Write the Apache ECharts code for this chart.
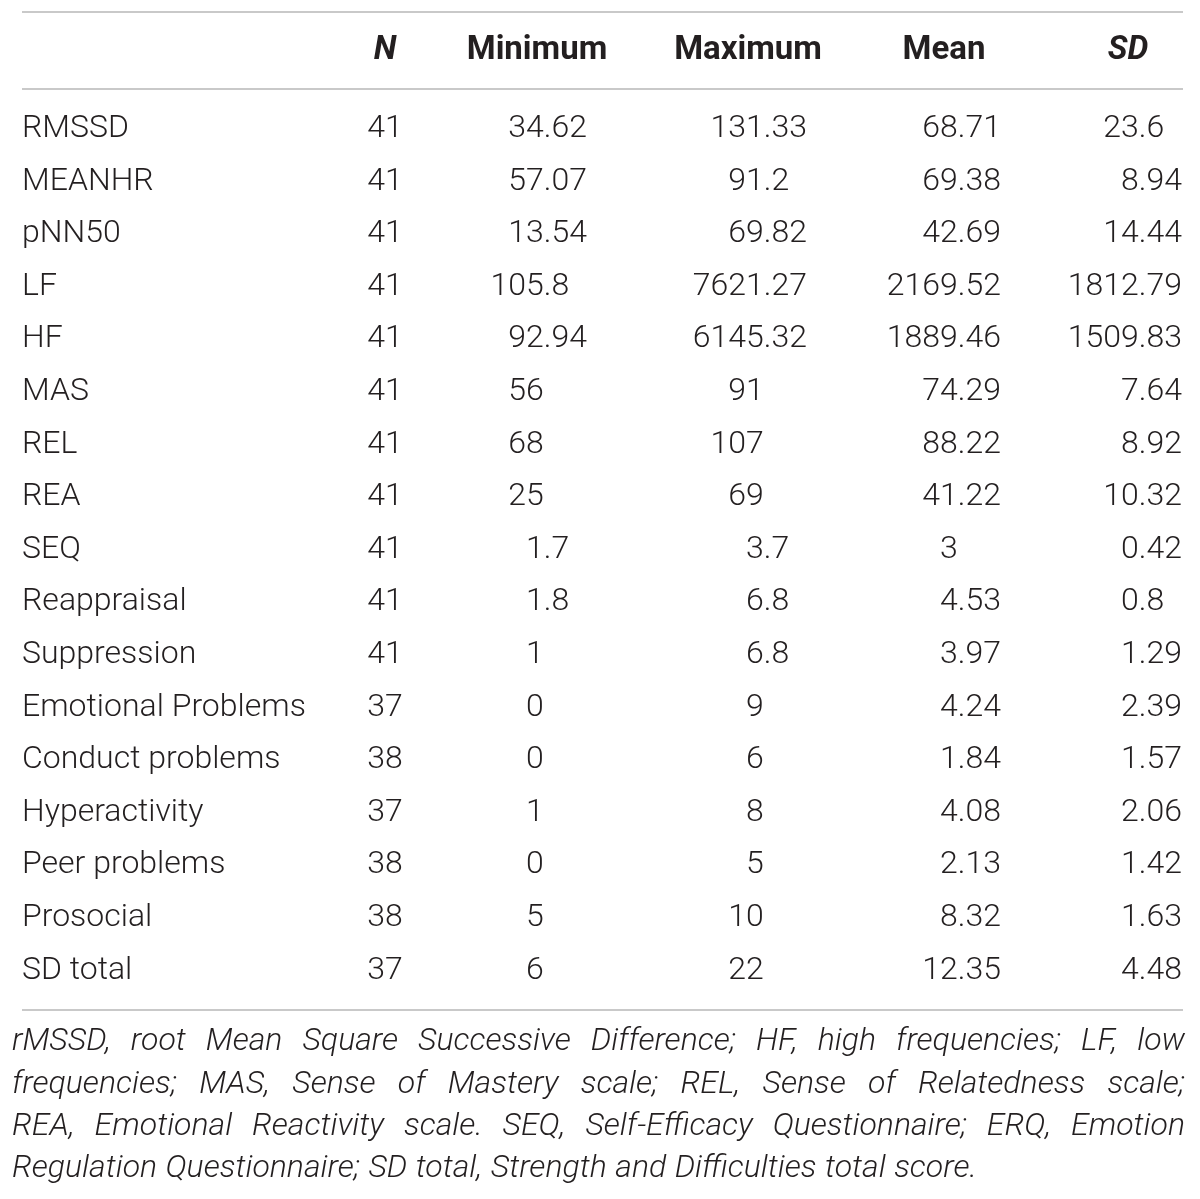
<!DOCTYPE html>
<html>
<head>
<meta charset="utf-8">
<script src="https://cdn.jsdelivr.net/npm/echarts@6/dist/echarts.min.js"></script>
<style>
  html, body { margin: 0; padding: 0; background: #fff; }
  #main { width: 1200px; height: 1199px; }
</style>
</head>
<body>
<div id="main"></div>
<script>
// table data
const rowNames = ['RMSSD', 'MEANHR', 'pNN50', 'LF', 'HF', 'MAS', 'REL', 'REA', 'SEQ',
  'Reappraisal', 'Suppression', 'Emotional Problems', 'Conduct problems',
  'Hyperactivity', 'Peer problems', 'Prosocial', 'SD total'];
const nValues = [41, 41, 41, 41, 41, 41, 41, 41, 41, 41, 41, 37, 38, 37, 38, 38, 37];
const minValues = [34.62, 57.07, 13.54, 105.8, 92.94, 56, 68, 25, 1.7, 1.8, 1, 0, 0, 1, 0, 5, 6];
const maxValues = [131.33, 91.2, 69.82, 7621.27, 6145.32, 91, 107, 69, 3.7, 6.8, 6.8, 9, 6, 8, 5, 10, 22];
const meanValues = [68.71, 69.38, 42.69, 2169.52, 1889.46, 74.29, 88.22, 41.22, 3, 4.53, 3.97, 4.24, 1.84, 4.08, 2.13, 8.32, 12.35];
const sdValues = [23.6, 8.94, 14.44, 1812.79, 1509.83, 7.64, 8.92, 10.32, 0.42, 0.8, 1.29, 2.39, 1.57, 2.06, 1.42, 1.63, 4.48];
const columnHeaders = ['N', 'Minimum', 'Maximum', 'Mean', 'SD'];
const footnoteLines = [
  'rMSSD, root Mean Square Successive Difference; HF, high frequencies; LF, low',
  'frequencies; MAS, Sense of Mastery scale; REL, Sense of Relatedness scale;',
  'REA, Emotional Reactivity scale. SEQ, Self-Efficacy Questionnaire; ERQ, Emotion',
  'Regulation Questionnaire; SD total, Strength and Difficulties total score.'
];

const columns = [nValues, minValues, maxValues, meanValues, sdValues];

// layout
const FAMILY = 'Roboto, "Liberation Sans", sans-serif';
const INK = '#231f20';
const RULE = '#c9c9c9';
const bodyFont = '300 32px ' + FAMILY;
const headFont = '700 33px ' + FAMILY;
const headItalicFont = 'italic 700 33px ' + FAMILY;
const noteFont = 'italic 300 32px ' + FAMILY;
const rowHeight = 52.6;
const firstRowY = 129;
const headerCenters = [385, 537, 748, 944, 1128];
const colRightEdges = [385, 587, 807, 1001, 1182];
const tableLeft = 22, tableRight = 1183;
const noteLeft = 12, noteRight = 1185;
const noteY = [1042, 1085, 1127, 1169];

const ctx = document.createElement('canvas').getContext('2d');
function measure(text, font) {
  ctx.font = font;
  return ctx.measureText(text).width;
}
const fracWidth = measure('.00', bodyFont);
const colAnchors = colRightEdges.map((r, i) => i === 0 ? r : r - fracWidth);

const cellData = [];
columns.forEach((col, c) => col.forEach((v, r) => cellData.push([c, r])));

// header, rules and footnote
const graphics = [];
[12, 89, 1010].forEach(y => graphics.push({
  type: 'line',
  shape: { x1: tableLeft, y1: y, x2: tableRight, y2: y },
  style: { stroke: RULE, lineWidth: 2 },
  silent: true
}));
columnHeaders.forEach((h, i) => graphics.push({
  type: 'text',
  x: headerCenters[i],
  y: 51,
  style: {
    text: h,
    font: (h === 'N' || h === 'SD') ? headItalicFont : headFont,
    fill: INK,
    textAlign: 'center',
    textVerticalAlign: 'middle'
  }
}));
footnoteLines.forEach((line, li) => {
  const words = line.split(' ');
  const last = li === footnoteLines.length - 1;
  const widths = words.map(w => measure(w, noteFont));
  const total = widths.reduce((a, b) => a + b, 0);
  const gap = last ? measure(' ', noteFont) * 1.1 : (noteRight - noteLeft - total) / (words.length - 1);
  let x = noteLeft;
  words.forEach((w, k) => {
    graphics.push({
      type: 'text',
      x: x,
      y: noteY[li],
      style: { text: w, font: noteFont, fill: INK, textAlign: 'left', textVerticalAlign: 'middle' }
    });
    x += widths[k] + gap;
  });
});

const chart = echarts.init(document.getElementById('main'), null, { renderer: 'canvas' });
chart.setOption({
  backgroundColor: '#ffffff',
  animation: false,
  grid: {
    left: 0,
    right: 0,
    top: firstRowY - rowHeight / 2,
    height: rowHeight * rowNames.length
  },
  xAxis: { type: 'value', min: 0, max: 1200, show: false },
  yAxis: {
    type: 'category',
    data: rowNames,
    inverse: true,
    axisLine: { show: false },
    axisTick: { show: false },
    splitLine: { show: false },
    axisLabel: {
      align: 'left',
      margin: -tableLeft,
      fontSize: 32,
      fontWeight: 300,
      fontFamily: FAMILY,
      color: INK
    }
  },
  graphic: graphics,
  series: [{
    type: 'custom',
    clip: false,
    data: cellData,
    encode: { x: 0, y: 1 },
    renderItem: function (params, api) {
      const c = api.value(0);
      const r = api.value(1);
      const s = String(columns[c][r]);
      const p = api.coord([colAnchors[c], r]);
      const dot = s.indexOf('.');
      const intPart = dot < 0 ? s : s.slice(0, dot);
      const fracPart = dot < 0 ? '' : s.slice(dot);
      const children = [{
        type: 'text',
        x: p[0], y: p[1],
        style: {
          text: intPart, font: bodyFont, fill: INK,
          textAlign: c === 0 ? 'center' : 'right', textVerticalAlign: 'middle'
        }
      }];
      if (fracPart) {
        children.push({
          type: 'text',
          x: p[0], y: p[1],
          style: { text: fracPart, font: bodyFont, fill: INK, textAlign: 'left', textVerticalAlign: 'middle' }
        });
      }
      return { type: 'group', children: children };
    }
  }]
});
</script>
</body>
</html>
